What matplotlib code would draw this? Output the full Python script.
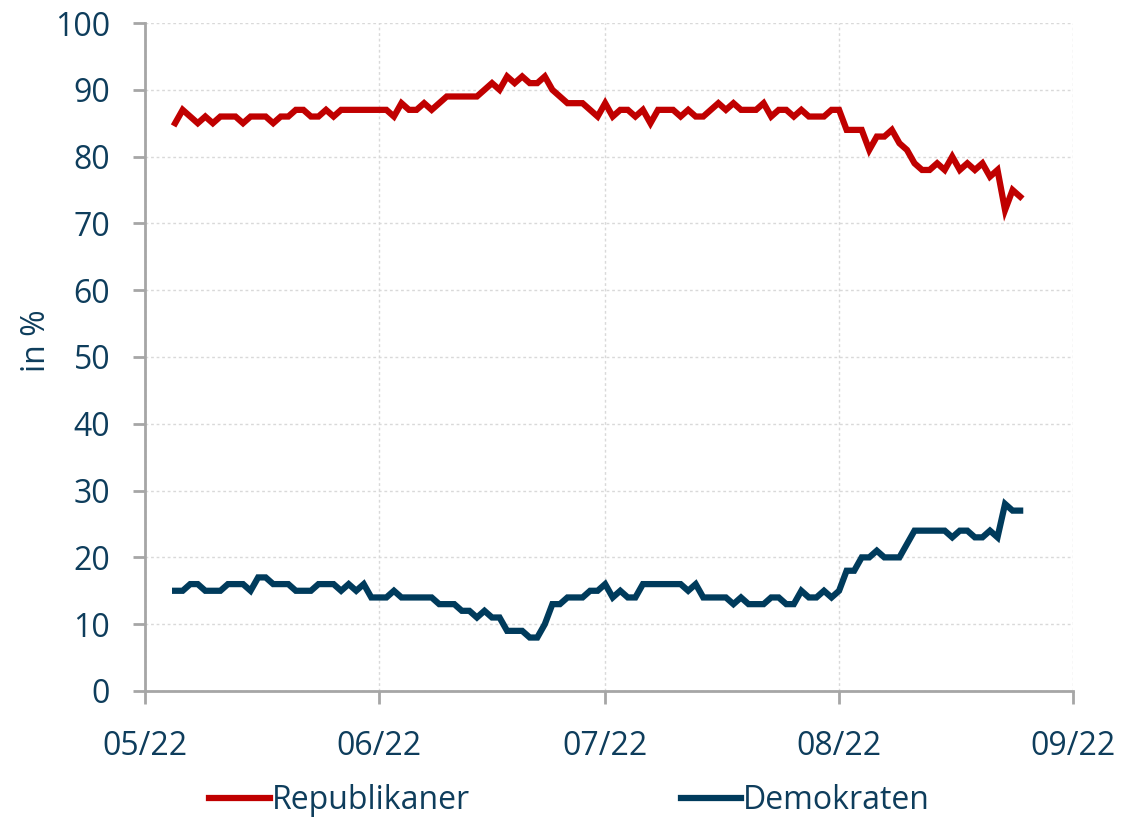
import numpy as np
import pandas as pd
import matplotlib
matplotlib.use('Agg')
import matplotlib.pyplot as plt
import matplotlib.dates as mdates

# daily values, 05 May 2022 .. 25 Aug 2022
rep_may = [85, 87, 86, 85, 86, 85, 86, 86, 86, 85, 86, 86, 86, 85, 86, 86,
           87, 87, 86, 86, 87, 86, 87, 87, 87, 87, 87, 87]
rep_jun = [87, 86, 88, 87, 87, 88, 87, 88, 89, 89, 89, 89, 89, 90, 91, 90,
           92, 91, 92, 91, 91, 92, 90, 89, 88, 88, 88, 87, 86]
rep_jul = [88, 86, 87, 87, 86, 87, 85, 87, 87, 87, 86, 87, 86, 86, 87, 88,
           87, 88, 87, 87, 87, 88, 86, 87, 87, 86, 87, 86, 86, 86, 87]
rep_aug = [87, 84, 84, 84, 81, 83, 83, 84, 82, 81, 79, 78, 78, 79, 78, 80,
           78, 79, 78, 79, 77, 78, 72, 75, 74]

dem_may = [15, 15, 16, 16, 15, 15, 15, 16, 16, 16, 15, 17, 17, 16, 16, 16,
           15, 15, 15, 16, 16, 16, 15, 16, 15, 16, 14, 14]
dem_jun = [14, 15, 14, 14, 14, 14, 14, 13, 13, 13, 12, 12, 11, 12, 11, 11,
           9, 9, 9, 8, 8, 10, 13, 13, 14, 14, 14, 15, 15]
dem_jul = [16, 14, 15, 14, 14, 16, 16, 16, 16, 16, 16, 15, 16, 14, 14, 14,
           14, 13, 14, 13, 13, 13, 14, 14, 13, 13, 15, 14, 14, 15, 14]
dem_aug = [15, 18, 18, 20, 20, 21, 20, 20, 20, 22, 24, 24, 24, 24, 24, 23,
           24, 24, 23, 23, 24, 23, 28, 27, 27]

republikaner = rep_may + rep_jun + rep_jul + rep_aug
demokraten = dem_may + dem_jun + dem_jul + dem_aug
dates = pd.date_range('2022-05-05', periods=len(republikaner), freq='D')

RED = '#C00000'
BLUE = '#003B5C'
TXT = '#0E3D5C'
GREY = '#A6A6A6'

plt.rcParams['font.family'] = ['Open Sans', 'DejaVu Sans']

fig = plt.figure(figsize=(11.28, 8.22), dpi=100)
ax = fig.add_axes([0.1285, 0.1594, 0.8227, 0.8126])

ax.plot(dates, republikaner, color=RED, lw=4.5, label='Republikaner',
        solid_joinstyle='miter')
ax.plot(dates, demokraten, color=BLUE, lw=4.5, label='Demokraten',
        solid_joinstyle='miter')

ax.set_ylim(0, 100)
ax.set_yticks(np.arange(0, 101, 10))
ax.set_xlim(pd.Timestamp('2022-05-01'), pd.Timestamp('2022-09-01'))
ax.xaxis.set_major_locator(mdates.MonthLocator())
ax.xaxis.set_major_formatter(mdates.DateFormatter('%m/%y'))

ax.grid(True, color='#D9D9D9', linestyle=(0, (2, 2)), lw=1)
ax.set_axisbelow(True)
for s in ['top', 'right']:
    ax.spines[s].set_visible(False)
for s in ['left', 'bottom']:
    ax.spines[s].set_color(GREY)
    ax.spines[s].set_linewidth(2)

ax.tick_params(axis='both', colors=GREY, width=2, length=9, labelcolor=TXT,
               labelsize=23)
ax.tick_params(axis='x', pad=19)
ax.tick_params(axis='y', pad=16)
ax.set_ylabel('in %', fontsize=23, color=TXT)
ax.yaxis.set_label_coords(-0.099, 0.525)

fig.legend(loc='center', bbox_to_anchor=(0.505, 0.026), ncol=2, frameon=False,
           fontsize=23, handlelength=1.9, handletextpad=0.05,
           columnspacing=6.6, labelcolor=TXT)

fig.savefig('out.png', dpi=100)
